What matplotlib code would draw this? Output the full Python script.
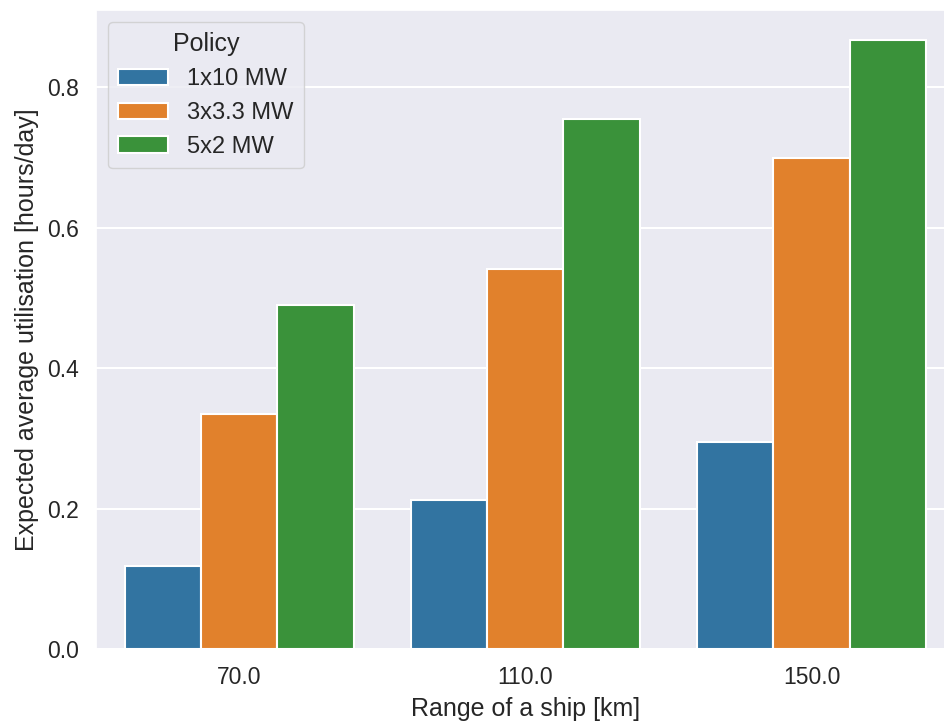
import numpy as np
import matplotlib
matplotlib.use("Agg")
import matplotlib.pyplot as plt
import seaborn as sns

categories = ["70.0", "110.0", "150.0"]
policies = ["1x10 MW", "3x3.3 MW", "5x2 MW"]
values_1x10 = [0.118, 0.212, 0.295]
values_3x33 = [0.335, 0.542, 0.700]
values_5x2 = [0.490, 0.755, 0.867]
colors = ["#3274a1", "#e1812c", "#3a923a"]

sns.set_theme(style="darkgrid")
plt.rcParams['font.family'] = ['Liberation Sans', 'DejaVu Sans']

fig = plt.figure(figsize=(9.44, 7.22), dpi=100)
ax = fig.add_axes([96/944, 73/722, 858.6/944, 639/722])

series = [values_1x10, values_3x33, values_5x2]
x = np.arange(len(categories))
w = 0.8 / len(series)
for i, (vals, lab, col) in enumerate(zip(series, policies, colors)):
    ax.bar(x - 0.4 + w/2 + i*w, vals, width=w, color=col, label=lab,
           edgecolor="white", linewidth=1.5)

ax.set_xlim(-0.5, 2.5)
ax.set_ylim(0, max(values_5x2) * 1.05)
ax.set_xticks(x)
ax.set_xticklabels(categories)
ax.set_yticks([0.0, 0.2, 0.4, 0.6, 0.8])
ax.set_yticklabels(["0.0", "0.2", "0.4", "0.6", "0.8"])
ax.tick_params(axis='both', labelsize=16.5, pad=6, colors="#262626")
ax.set_xlabel("Range of a ship [km]", fontsize=18, color="#262626", labelpad=6)
ax.set_ylabel("Expected average utilisation [hours/day]", fontsize=18, color="#262626", labelpad=6)
ax.yaxis.grid(True, color="white", linewidth=1.5)
ax.xaxis.grid(False)
ax.set_axisbelow(True)

leg = ax.legend(title="Policy", loc="upper left", fontsize=17, title_fontsize=18,
                handlelength=2.1, borderpad=0.45)

fig.savefig("out.png", dpi=100)
